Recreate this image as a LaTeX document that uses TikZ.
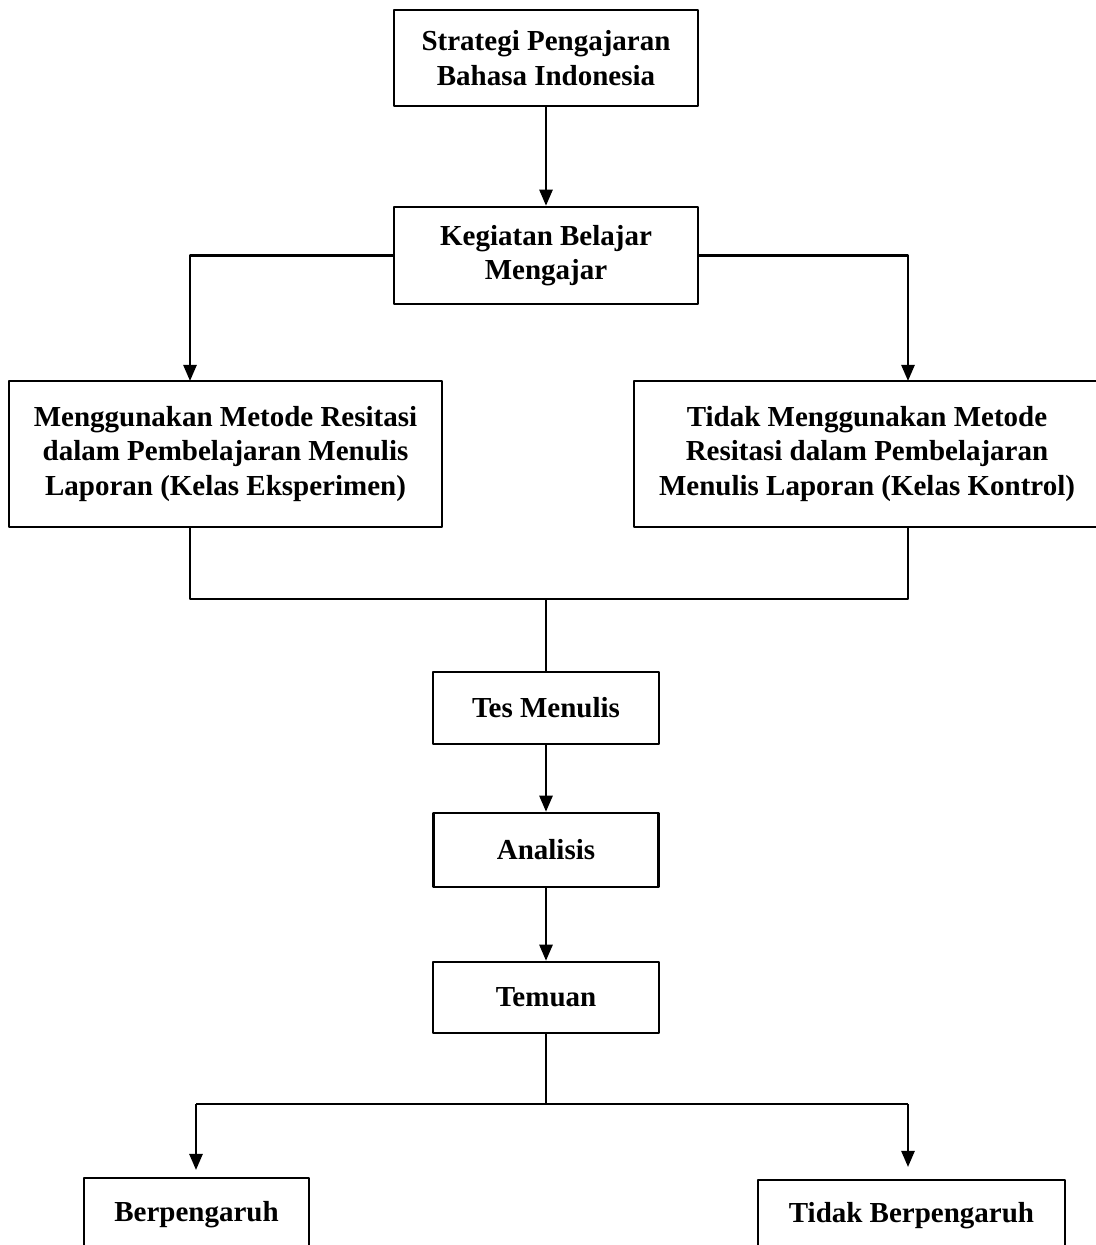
\documentclass[tikz,border=0pt]{standalone}
\usepackage{fontspec}
\setmainfont{Liberation Serif}
\usetikzlibrary{arrows.meta}
\begin{document}
\begin{tikzpicture}[>={Triangle[length=16bp,width=13bp]},line join=bevel,
  box/.style={draw,line width=2.5bp,align=center,inner sep=0pt,
    font=\fontsize{29bp}{34.5bp}\selectfont\bfseries},
  link/.style={line width=2.5bp}]
  \clip (0bp,0bp) rectangle (1096bp,1245bp);
%%
  % Node: Strategi
  \node[box,minimum width=304bp,minimum height=96bp] (Strategi) at (546bp,1187bp) {Strategi Pengajaran\\Bahasa Indonesia};
  % Node: Kegiatan
  \node[box,minimum width=304bp,minimum height=97bp] (Kegiatan) at (546bp,989.5bp) {Kegiatan Belajar\\Mengajar};
  % Node: Eksperimen
  \node[box,minimum width=433bp,minimum height=146bp] (Eksperimen) at (225.5bp,791bp) {Menggunakan Metode Resitasi\\dalam Pembelajaran Menulis\\Laporan (Kelas Eksperimen)};
  % Node: Kontrol
  \node[box,minimum width=466bp,minimum height=146bp] (Kontrol) at (867bp,791bp) {Tidak Menggunakan Metode\\Resitasi dalam Pembelajaran\\Menulis Laporan (Kelas Kontrol)};
  % Node: Tes
  \node[box,minimum width=226bp,minimum height=72bp] (Tes) at (546bp,537bp) {Tes Menulis};
  % Node: Analisis
  \node[box,minimum width=225bp,minimum height=74bp] (Analisis) at (546bp,395bp) {Analisis};
  % Node: Temuan
  \node[box,minimum width=226bp,minimum height=71bp] (Temuan) at (546bp,247.5bp) {Temuan};
  % Node: Berpengaruh
  \node[box,minimum width=225bp,minimum height=74bp] (Berpengaruh) at (196.5bp,30bp) {Berpengaruh};
  % Node: TidakBerpengaruh
  \node[box,minimum width=307bp,minimum height=72bp] (TidakBerpengaruh) at (911.5bp,29bp) {Tidak Berpengaruh};
%%
  \coordinate (KegLeft) at (190bp,864bp);
  \coordinate (KegRight) at (908bp,864bp);
  \coordinate (JoinLeft) at (190bp,646bp);
  \coordinate (JoinRight) at (908bp,646bp);
  \coordinate (JoinMid) at (546bp,646bp);
  \coordinate (TemMid) at (546bp,141bp);
  \coordinate (TemLeft) at (196bp,141bp);
  \coordinate (TemRight) at (908bp,141bp);
  \coordinate (BerTop) at (196bp,75bp);
  \coordinate (TidTop) at (908bp,78bp);
  % Edge: Strategi -> Kegiatan
  \draw [->,link] (Strategi) -- (Kegiatan);
  % Edge: Kegiatan -> Eksperimen
  \draw [->,link] (Kegiatan.west) -| (KegLeft);
  % Edge: Kegiatan -> Kontrol
  \draw [->,link] (Kegiatan.east) -| (KegRight);
  % Edge: Eksperimen, Kontrol -> Tes
  \draw [link] (Eksperimen.south -| JoinLeft) -- (JoinLeft) -- (JoinRight) -- (Kontrol.south -| JoinRight);
  \draw [link] (JoinMid) -- (Tes);
  % Edge: Tes -> Analisis
  \draw [->,link] (Tes) -- (Analisis);
  % Edge: Analisis -> Temuan
  \draw [->,link] (Analisis) -- (Temuan);
  % Edge: Temuan -> Berpengaruh, TidakBerpengaruh
  \draw [link] (Temuan) -- (TemMid);
  \draw [link] (TemLeft) -- (TemRight);
  \draw [->,link] (TemLeft) -- (BerTop);
  \draw [->,link] (TemRight) -- (TidTop);
%
\end{tikzpicture}
\end{document}
